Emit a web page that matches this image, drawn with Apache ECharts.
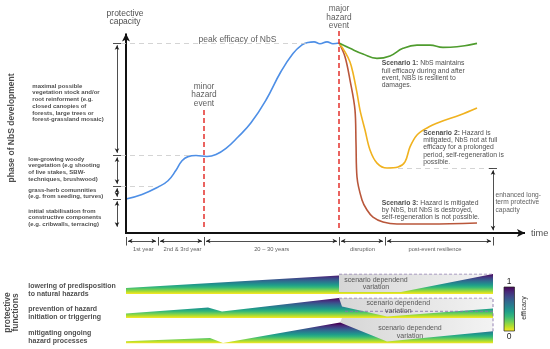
<!DOCTYPE html>
<html><head><meta charset="utf-8">
<script src="https://cdn.jsdelivr.net/npm/echarts@6/dist/echarts.min.js"></script>
<style>html,body{margin:0;padding:0;background:#fff}#c{width:550px;height:349px}</style>
</head><body><div id="c"></div>
<script>
// ---------------- data (x: time units, y: protective capacity, peak = 100) ----------------
const establishment = [[0,17.9],[16,20.3],[32,24.2],[42,27.5],[50,33],[56,38],[62,40.2],[70,40.8],[81,40.3],[90,41.3],[100,44.5],[112,50.5],[125,58],[140,70],[155,85],[167,94.5],[176,99],[182,100.3],[188,100.6],[194,99.6],[201,100.6],[207,99.6],[213,100]];
const scenario1 = [[213,100],[224,97.2],[237,94.2],[251,91.9],[264,93.2],[277,97.2],[291,98.9],[304,98.9],[317,97.7],[331,98.0],[351,99.8]];
const scenario2 = [[213,100],[219,95.3],[224,90],[227,84.2],[231,73.7],[234,64.7],[239,54.2],[244,43.7],[251,36.8],[261,34.2],[272,34.7],[279,37.4],[284,45.3],[291,51.6],[301,55.3],[314,58.4],[334,62.1],[351,65.8]];
const scenario3 = [[213,100],[219,92.8],[224,80.5],[229,64.7],[230,47.4],[231,29.5],[236,17.4],[241,12.1],[247,8.4],[257,5.8],[271,4.7],[304,4.7],[351,5.3]];
const phaseLevels = [100, 41, 24.7, 17.9, 2.1];
const minorEvent = 78, majorEvent = 213, peakLevel = 100, enhancedLevel = 34.2, scenario2MinX = 272, timeEnd = 367;
const periodBounds = [0, 32, 78, 213, 259, 367];
const periodLabels = ['1st year', '2nd & 3rd year', '20 – 30 years', 'disruption', 'post-event resilience'];
const periodLabelX = [17.3, 56.5, 145.7, 236.5, 309];
// protective-function bands (x, efficacy 0..1)
const band1Top  = [[0,0.3],[213,0.92],[213,0.1],[275,0.1],[367,1.0]];
const band1Gray = [[213,1.0],[367,1.0]];
const band2Top  = [[0,0.22],[82,0.53],[96,0.33],[213,1.0],[216,0.58],[261,0.08],[367,0.47]];
const band2Gray = [[213,1.0],[367,1.0],[367,0.47]];
const band3Top  = [[0,0.11],[84,0.27],[97,0.03],[214,1.05],[261,0.1],[367,0.61]];
const band3Gray = [[214,1.05],[219,1.61],[367,1.61],[367,0.61]];
const bandLabels = ['lowering of predisposition\nto natural hazards', 'prevention of hazard\ninitiation or triggering', 'mitigating ongoing\nhazard processes'];

// ---------------- layout / style ----------------
const FONT = 'Liberation Sans, Arial, Helvetica, sans-serif';
const INK = '#222';
const viridis = ['#fde725','#b5de2b','#6ece58','#35b779','#1f9e89','#26828e','#31688e','#3e4989','#482878','#440154'];
const stops = viridis.map((c,i)=>({offset:i/(viridis.length-1), color:c}));
const bandGrids = [{top:274,height:20,max:1},{top:298,height:20,max:1},{top:310.5,height:33,max:1.65}];

function seg(a, b, o) {
  o = o || {};
  const sz = o.size || [4,5];
  return [
    {coord:a, symbol:o.s1 || 'none', symbolSize:sz, lineStyle:Object.assign({color:INK, width:0.8, type:'solid'}, o.style || {})},
    {coord:b, symbol:o.s2 || 'none', symbolSize:sz}
  ];
}
const lines = [];
// axes
lines.push(seg([-1,0],[399,0],{s2:'arrow', size:[6,8], style:{width:2, color:'#111'}}));
lines.push(seg([0,-0.5],[0,105],{s2:'arrow', size:[6,8], style:{width:2, color:'#111'}}));
// phase annotation at left
for (let i=0;i<phaseLevels.length-1;i++) {
  lines.push(seg([-9,phaseLevels[i]-1.2],[-9,phaseLevels[i+1]+1.2],{s1:'arrow', s2:'arrow', size:[3.5,4.5]}));
}
for (let i=0;i<phaseLevels.length-1;i++) lines.push(seg([-13,phaseLevels[i]],[-5,phaseLevels[i]]));
const gdash = {color:'#c9c9c9', width:0.8, type:[5,4]};
lines.push(seg([-5,peakLevel],[181,peakLevel],{style:gdash}));
lines.push(seg([-5,phaseLevels[1]],[63,phaseLevels[1]],{style:gdash}));
lines.push(seg([-5,phaseLevels[2]],[32,phaseLevels[2]],{style:gdash}));
lines.push(seg([scenario2MinX,enhancedLevel],[timeEnd,enhancedLevel],{style:gdash}));
// events
const red = {color:'#e3312d', width:1.5, type:[5,3]};
lines.push(seg([minorEvent,64.7],[minorEvent,2.6],{style:red}));
lines.push(seg([majorEvent,106.3],[majorEvent,2.6],{style:red}));
// enhanced long-term capacity arrow
lines.push(seg([timeEnd,enhancedLevel-1.2],[timeEnd,1.4],{s1:'arrow', s2:'arrow', size:[3.5,4.5]}));
lines.push(seg([timeEnd-4,enhancedLevel],[timeEnd+4,enhancedLevel]));
// periods below the time axis
periodBounds.forEach(b => lines.push(seg([b,-2.1],[b,-6.6])));
for (let i=0;i<periodBounds.length-1;i++) {
  lines.push(seg([periodBounds[i]+2,-4.2],[periodBounds[i+1]-2,-4.2],{s1:'arrow', s2:'arrow', size:[3.5,4.5]}));
}

function txt(x, y, text, o) {
  o = o || {};
  return {value:[x,y], label:{show:true, formatter:()=>text, position:[0,0],
    align:o.align || 'left', verticalAlign:o.va || 'top', fontSize:o.size || 6.6,
    lineHeight:o.lh || 7.3, fontWeight:o.bold ? 'bold' : 'normal', color:o.color || INK,
    rotate:o.rotate || 0, fontFamily:FONT, rich:o.rich}};
}
const richB = {bold:{fontWeight:'bold', fontSize:6.8, lineHeight:7.3, color:INK, fontFamily:FONT}};
const mainTexts = [
  txt(-1, 113.4, 'protective\ncapacity', {align:'center', va:'middle', size:8.5, lh:8.5}),
  txt(111.5, 101.9, 'peak efficacy of NbS', {align:'center', va:'middle', size:8.5, lh:9, color:'#333'}),
  txt(minorEvent, 72.6, 'minor\nhazard\nevent', {align:'center', va:'middle', size:8.3, lh:8.7, color:'#333'}),
  txt(majorEvent, 113.5, 'major\nhazard\nevent', {align:'center', va:'middle', size:8.3, lh:8.7, color:'#333'}),
  txt(405, -0.4, 'time', {va:'middle', size:9.2, lh:10}),
  txt(255.7, 91.2, '{bold|Scenario 1:} NbS maintains\nfull efficacy during and after\nevent, NBS is resilient to\ndamages.', {size:6.8, rich:richB}),
  txt(297.3, 54.7, '{bold|Scenario 2:} Hazard is\nmitigated, NbS not at full\nefficacy for a prolonged\nperiod, self-regeneration is\npossible.', {size:6.8, rich:richB}),
  txt(255.7, 17.9, '{bold|Scenario 3:} Hazard is mitigated\nby NbS, but NbS is destroyed,\nself-regeneration is not possible.', {size:6.8, rich:richB}),
  txt(369.5, 21.9, 'enhanced long-\nterm protective\ncapacity', {size:6.6, lh:7.5, color:'#333'}),
  txt(-93.7, 79.1, 'maximal possible\nvegetation stock and/or\nroot reinforment (e.g.\nclosed canopies of\nforests, large trees or\nforest-grassland mosaic)', {size:6, lh:6.7, bold:true}),
  txt(-97.7, 40.7, 'low-growing woody\nvergetation (e.g shooting\nof live stakes, SBW-\ntechniques, brushwood)', {size:6, lh:6.7, bold:true}),
  txt(-97.7, 24.4, 'grass-herb comunnities\n(e.g. from seeding, turves)', {size:6, lh:6.7, bold:true}),
  txt(-97.7, 13.3, 'initial stabilisation from\nconstructive components\n(e.g. cribwalls, terracing)', {size:6, lh:6.7, bold:true}),
  txt(-114.3, 55.3, 'phase of NbS development', {align:'center', va:'middle', size:8.5, lh:9, bold:true, rotate:90})
];
periodLabels.forEach((l,i)=>mainTexts.push(txt(periodLabelX[i], -8.4, l, {align:'center', va:'middle', size:5.8, lh:6, color:'#333'})));

const series = [
  {type:'line', xAxisIndex:0, yAxisIndex:0, data:[[0,0]], symbol:'none', color:INK, lineStyle:{opacity:0}, z:5, silent:true,
   markLine:{silent:true, animation:false, symbol:['none','none'], label:{show:false}, emphasis:{disabled:true},
     lineStyle:{color:INK, width:0.8, type:'solid'}, data:lines}},
  {type:'line', xAxisIndex:0, yAxisIndex:0, data:scenario3, smooth:0.35, symbol:'none', lineStyle:{color:'#b9573b', width:1.6}, z:3},
  {type:'line', xAxisIndex:0, yAxisIndex:0, data:scenario2, smooth:0.35, symbol:'none', lineStyle:{color:'#f0b21f', width:1.6}, z:3},
  {type:'line', xAxisIndex:0, yAxisIndex:0, data:scenario1, smooth:0.45, symbol:'none', lineStyle:{color:'#4f9c2e', width:1.6}, z:3},
  {type:'line', xAxisIndex:0, yAxisIndex:0, data:establishment, smooth:0.45, symbol:'none', lineStyle:{color:'#4e8fe6', width:1.6}, z:3},
  {type:'scatter', xAxisIndex:0, yAxisIndex:0, symbolSize:0, data:mainTexts, silent:true, z:10}
];

const bandTops = [band1Top, band2Top, band3Top];
const bandGrays = [band1Gray, band2Gray, band3Gray];
const variationPos = [[250,0.52],[272.3,0.55],[284,0.565]];
const bandLabelY = [0.59, 0.625, 0.70];
bandGrids.forEach((g,i)=>{
  const ai = i+1;
  const base = g.top + g.height, one = base - g.height/g.max;
  series.push({type:'line', xAxisIndex:ai, yAxisIndex:ai, data:bandGrays[i], symbol:'none', silent:true,
    lineStyle:{width:0, opacity:0}, z:1,
    areaStyle:{opacity:1, color:{type:'linear', x:0, y:0, x2:1, y2:0, colorStops:[{offset:0,color:'#d6d6d6'},{offset:1,color:'#f3f3f3'}]}}});
  series.push({type:'line', xAxisIndex:ai, yAxisIndex:ai, data:bandTops[i], symbol:'none', silent:true,
    lineStyle:{width:0, opacity:0}, z:2,
    areaStyle:{opacity:1, color:{type:'linear', x:0, y:base, x2:0, y2:one, global:true, colorStops:stops}}});
  const dash = bandGrays[i].filter((p,k)=> !(i===2 && k===0));
  series.push({type:'line', xAxisIndex:ai, yAxisIndex:ai, data:dash, symbol:'none', silent:true, z:3,
    lineStyle:{color:'#8a76ad', width:0.9, type:[3,2]}});
  const t = [
    txt(-97.7, bandLabelY[i], bandLabels[i], {size:7, lh:7.6, bold:true}),
    txt(variationPos[i][0], variationPos[i][1], 'scenario dependend\nvariation', {align:'center', va:'middle', size:7, lh:7.6, color:'#333'})
  ];
  if (i===1) t.push(txt(-114.5, 0.275, 'protective\nfunctions', {align:'center', va:'middle', size:8.5, lh:8.4, bold:true, rotate:90}));
  series.push({type:'scatter', xAxisIndex:ai, yAxisIndex:ai, symbolSize:0, data:t, silent:true, z:10});
});

const option = {
  animation:false,
  backgroundColor:'#fff',
  textStyle:{fontFamily:FONT},
  grid:[{left:0, top:1.2, width:550, height:260.3}].concat(bandGrids.map(g=>({left:0, top:g.top, width:550, height:g.height}))),
  xAxis:[0,1,2,3].map(i=>({type:'value', gridIndex:i, min:-126, max:424, show:false})),
  yAxis:[{type:'value', gridIndex:0, min:-15, max:122, show:false}].concat(bandGrids.map((g,i)=>({type:'value', gridIndex:i+1, min:0, max:g.max, show:false}))),
  series:series,
  graphic:[
    {type:'rect', shape:{x:504, y:287, width:10.5, height:44}, style:{fill:{type:'linear', x:0, y:1, x2:0, y2:0, colorStops:stops}, stroke:'#222', lineWidth:0.7}},
    {type:'text', x:509, y:282, style:{text:'1', fontSize:8.5, fill:INK, align:'center', verticalAlign:'middle', fontFamily:FONT}},
    {type:'text', x:509, y:337, style:{text:'0', fontSize:8.5, fill:INK, align:'center', verticalAlign:'middle', fontFamily:FONT}},
    {type:'text', x:524, y:308, rotation:Math.PI/2, style:{text:'efficacy', fontSize:7, fill:'#333', align:'center', verticalAlign:'middle', fontFamily:FONT}}
  ]
};
const chart = echarts.init(document.getElementById('c'), null, {renderer:'canvas'});
chart.setOption(option);
</script>
</body></html>
